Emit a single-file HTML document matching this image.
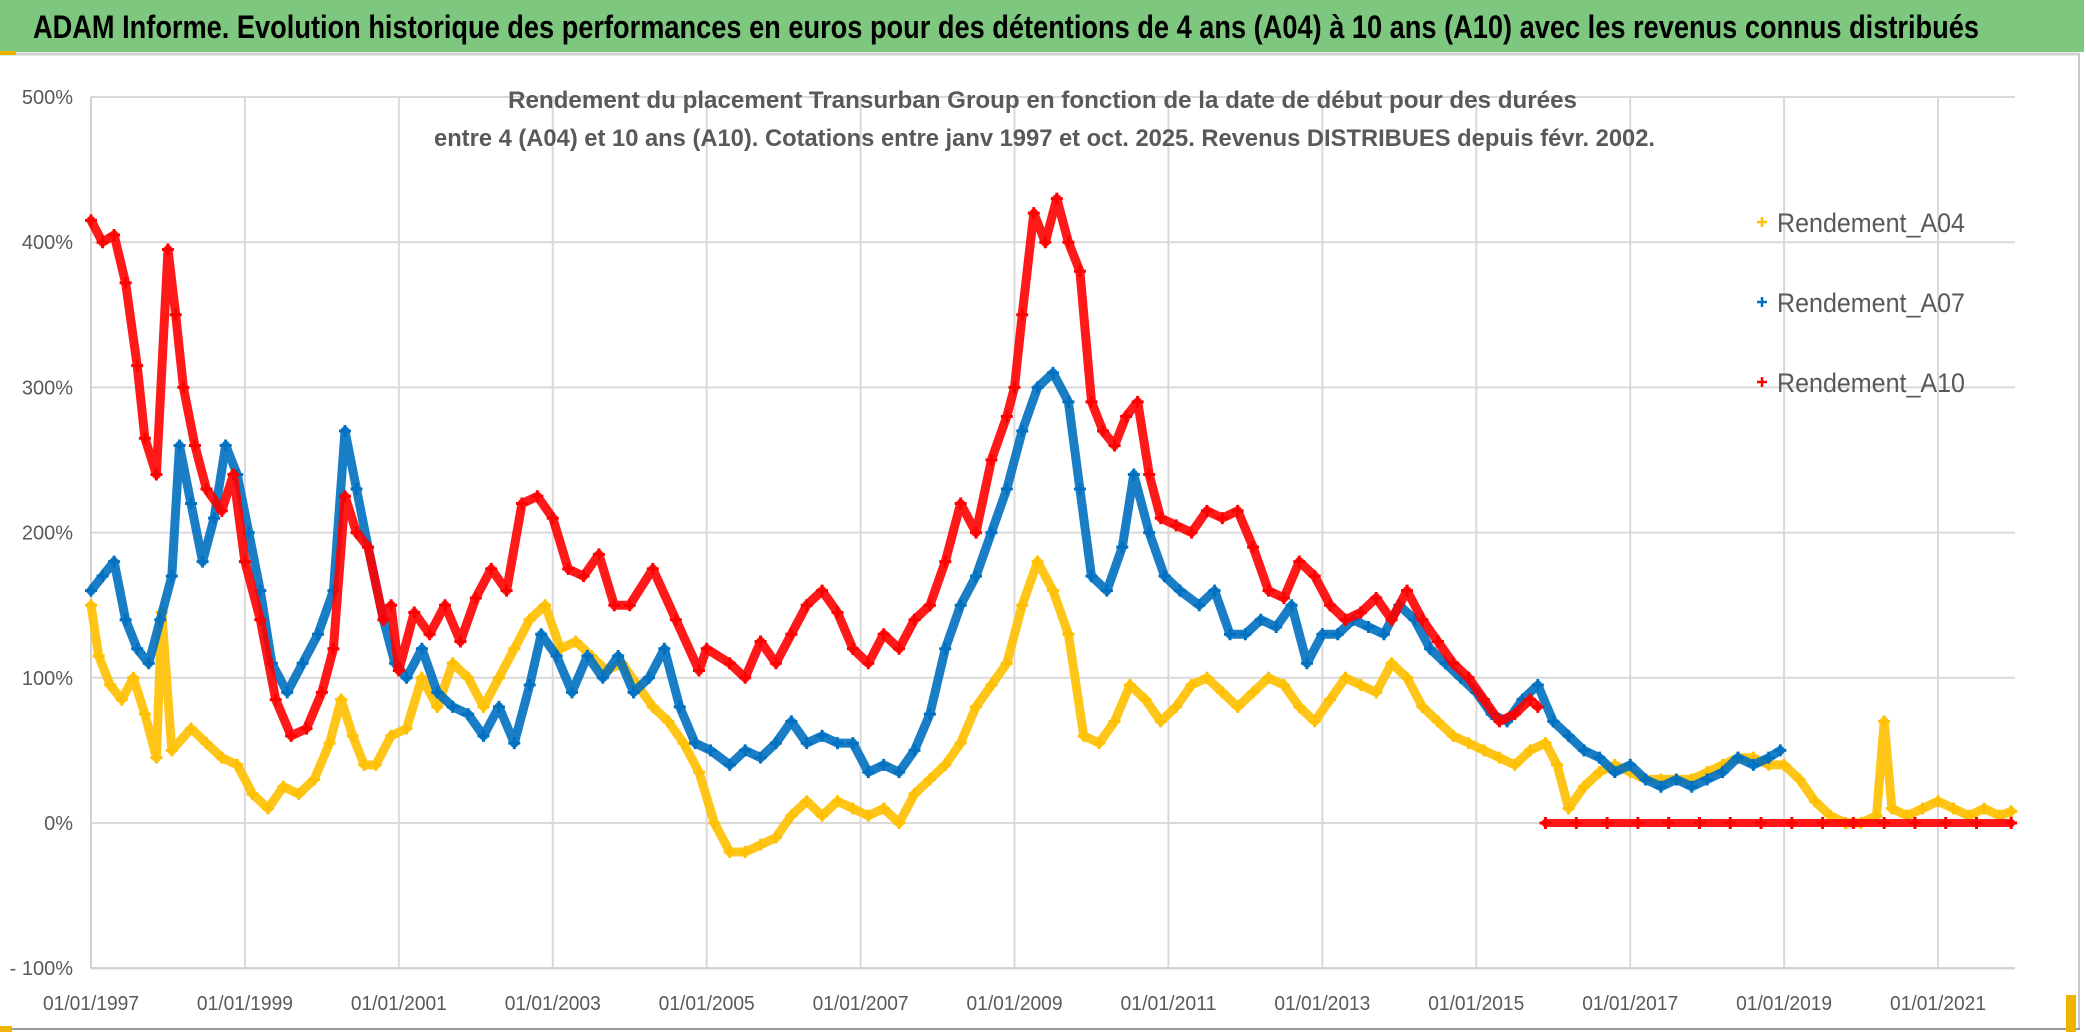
<!DOCTYPE html>
<html><head><meta charset="utf-8">
<style>
html,body{margin:0;padding:0;background:#fff;}
svg{display:block;}
text{font-family:"Liberation Sans",sans-serif;}
</style></head>
<body>
<svg id="chart" width="2086" height="1032" viewBox="0 0 2086 1032">
  <rect x="0" y="0" width="2086" height="1032" fill="#fff"/>
  <rect x="0" y="0" width="2084" height="52" fill="#7dc87e"/>
  <line x1="0" y1="54" x2="2080" y2="54" stroke="#d0d0d0" stroke-width="3"/>
  <rect x="0" y="51" width="16" height="4" fill="#f0b400"/>
  <line x1="2079" y1="55" x2="2079" y2="1030" stroke="#c8c8c8" stroke-width="2"/>
  <line x1="0" y1="1029" x2="2080" y2="1029" stroke="#999" stroke-width="2"/>
  <rect x="0" y="1026" width="12" height="6" fill="#f0b400"/>
  <rect x="2066" y="995" width="10" height="37" fill="#f0b400"/>
  <text x="33" y="38" font-size="32" font-weight="bold" fill="#000" textLength="1946" lengthAdjust="spacingAndGlyphs">ADAM Informe. Evolution historique des performances en euros pour des détentions de 4 ans (A04) à 10 ans (A10) avec les revenus connus distribués</text>
  <g id="grid"></g>
  <g id="axes"></g>
  <text x="508" y="108" font-size="24" font-weight="bold" fill="#595959" textLength="1069" lengthAdjust="spacingAndGlyphs">Rendement du placement Transurban Group en fonction de la date de début pour des durées</text>
  <text x="434" y="146" font-size="24" font-weight="bold" fill="#595959" textLength="1221" lengthAdjust="spacingAndGlyphs">entre 4 (A04) et 10 ans (A10). Cotations entre janv 1997 et oct. 2025. Revenus DISTRIBUES depuis févr. 2002.</text>
  <g id="series"></g>
  <g id="legend"></g>
</svg>
<script>
const yTickValues = [-100, 0, 100, 200, 300, 400, 500];
const yTickLabels = ['- 100%', '0%', '100%', '200%', '300%', '400%', '500%'];
const xTickYears = [1997, 1999, 2001, 2003, 2005, 2007, 2009, 2011, 2013, 2015, 2017, 2019, 2021];
const xTickLabels = ['01/01/1997','01/01/1999','01/01/2001','01/01/2003','01/01/2005','01/01/2007','01/01/2009','01/01/2011','01/01/2013','01/01/2015','01/01/2017','01/01/2019','01/01/2021'];
const seriesNames = ['Rendement_A04', 'Rendement_A07', 'Rendement_A10'];

const datesA10 = [1997.0,1997.15,1997.3,1997.45,1997.6,1997.7,1997.85,1998.0,1998.1,1998.2,1998.35,1998.5,1998.7,1998.85,1999.0,1999.2,1999.4,1999.6,1999.8,2000.0,2000.15,2000.3,2000.45,2000.6,2000.8,2000.9,2001.0,2001.2,2001.4,2001.6,2001.8,2002.0,2002.2,2002.4,2002.6,2002.8,2003.0,2003.2,2003.4,2003.6,2003.8,2004.0,2004.3,2004.6,2004.9,2005.0,2005.3,2005.5,2005.7,2005.9,2006.1,2006.3,2006.5,2006.7,2006.9,2007.1,2007.3,2007.5,2007.7,2007.9,2008.1,2008.3,2008.5,2008.7,2008.9,2009.0,2009.1,2009.25,2009.4,2009.55,2009.7,2009.85,2010.0,2010.15,2010.3,2010.45,2010.6,2010.75,2010.9,2011.1,2011.3,2011.5,2011.7,2011.9,2012.1,2012.3,2012.5,2012.7,2012.9,2013.1,2013.3,2013.5,2013.7,2013.9,2014.1,2014.3,2014.5,2014.7,2014.9,2015.1,2015.3,2015.5,2015.7,2015.8];
const valuesA10 = [415,400,405,372,315,265,240,395,350,300,260,230,215,240,180,140,85,60,65,90,120,225,200,190,140,150,105,145,130,150,125,155,175,160,220,225,210,175,170,185,150,150,175,140,105,120,110,100,125,110,130,150,160,145,120,110,130,120,140,150,180,220,200,250,280,300,350,420,400,430,400,380,290,270,260,280,290,240,210,205,200,215,210,215,190,160,155,180,170,150,140,145,155,140,160,140,125,110,100,85,70,75,85,80];
const datesA10zero = [2015.9,2016.3,2016.7,2017.1,2017.5,2017.9,2018.3,2018.7,2019.1,2019.5,2019.9,2020.3,2020.7,2021.1,2021.5,2021.95];
const valuesA10zero = [0,0,0,0,0,0,0,0,0,0,0,0,0,0,0,0];

const datesA07 = [1997.0,1997.15,1997.3,1997.45,1997.6,1997.75,1997.9,1998.05,1998.15,1998.3,1998.45,1998.6,1998.75,1998.9,1999.05,1999.2,1999.35,1999.55,1999.75,1999.95,2000.15,2000.3,2000.45,2000.6,2000.8,2000.95,2001.1,2001.3,2001.5,2001.7,2001.9,2002.1,2002.3,2002.5,2002.7,2002.85,2003.05,2003.25,2003.45,2003.65,2003.85,2004.05,2004.25,2004.45,2004.65,2004.85,2005.05,2005.3,2005.5,2005.7,2005.9,2006.1,2006.3,2006.5,2006.7,2006.9,2007.1,2007.3,2007.5,2007.7,2007.9,2008.1,2008.3,2008.5,2008.7,2008.9,2009.1,2009.3,2009.5,2009.7,2009.85,2010.0,2010.2,2010.4,2010.55,2010.75,2010.95,2011.15,2011.4,2011.6,2011.8,2012.0,2012.2,2012.4,2012.6,2012.8,2013.0,2013.2,2013.4,2013.6,2013.8,2014.0,2014.2,2014.4,2014.6,2014.8,2015.0,2015.2,2015.4,2015.6,2015.8,2016.0,2016.2,2016.4,2016.6,2016.8,2017.0,2017.2,2017.4,2017.6,2017.8,2018.0,2018.2,2018.4,2018.6,2018.8,2018.95];
const valuesA07 = [160,170,180,140,120,110,140,170,260,220,180,210,260,240,200,160,110,90,110,130,160,270,230,190,140,110,100,120,90,80,75,60,80,55,95,130,115,90,115,100,115,90,100,120,80,55,50,40,50,45,55,70,55,60,55,55,35,40,35,50,75,120,150,170,200,230,270,300,310,290,230,170,160,190,240,200,170,160,150,160,130,130,140,135,150,110,130,130,140,135,130,150,140,120,110,100,90,75,70,85,95,70,60,50,45,35,40,30,25,30,25,30,35,45,40,45,50];

const datesA04 = [1997.0,1997.1,1997.25,1997.4,1997.55,1997.7,1997.85,1997.92,1998.05,1998.3,1998.5,1998.7,1998.9,1999.1,1999.3,1999.5,1999.7,1999.9,2000.1,2000.25,2000.4,2000.55,2000.7,2000.9,2001.1,2001.3,2001.5,2001.7,2001.9,2002.1,2002.3,2002.5,2002.7,2002.9,2003.1,2003.3,2003.5,2003.7,2003.9,2004.1,2004.3,2004.5,2004.7,2004.9,2005.1,2005.3,2005.5,2005.7,2005.9,2006.1,2006.3,2006.5,2006.7,2006.9,2007.1,2007.3,2007.5,2007.7,2007.9,2008.1,2008.3,2008.5,2008.7,2008.9,2009.1,2009.3,2009.5,2009.7,2009.9,2010.1,2010.3,2010.5,2010.7,2010.9,2011.1,2011.3,2011.5,2011.7,2011.9,2012.1,2012.3,2012.5,2012.7,2012.9,2013.1,2013.3,2013.5,2013.7,2013.9,2014.1,2014.3,2014.5,2014.7,2014.9,2015.1,2015.3,2015.5,2015.7,2015.9,2016.05,2016.2,2016.4,2016.6,2016.8,2017.0,2017.2,2017.4,2017.6,2017.8,2018.0,2018.2,2018.4,2018.6,2018.8,2019.0,2019.2,2019.4,2019.6,2019.8,2020.0,2020.2,2020.3,2020.4,2020.6,2020.8,2021.0,2021.2,2021.4,2021.6,2021.8,2021.95];
const valuesA04 = [150,115,95,85,100,75,45,145,50,65,55,45,40,20,10,25,20,30,55,85,60,40,40,60,65,100,80,110,100,80,100,120,140,150,120,125,115,105,110,95,80,70,55,35,0,-20,-20,-15,-10,5,15,5,15,10,5,10,0,20,30,40,55,80,95,110,150,180,160,130,60,55,70,95,85,70,80,95,100,90,80,90,100,95,80,70,85,100,95,90,110,100,80,70,60,55,50,45,40,50,55,40,10,25,35,40,35,30,30,30,30,35,40,45,45,40,40,30,15,5,0,0,5,70,10,5,10,15,10,5,10,5,8];

const NS = 'http://www.w3.org/2000/svg';
const X0 = 91, X1 = 2015, T0 = 1997, T1 = 2022;
const Y0 = 823, PX_PER_PCT = 1.452;
function xScale(t){ return X0 + (t - T0) * (X1 - X0) / (T1 - T0); }
function yScale(v){ return Y0 - v * PX_PER_PCT; }
function mk(tag, attrs, parent){ const e = document.createElementNS(NS, tag); for (const k in attrs) e.setAttribute(k, attrs[k]); parent.appendChild(e); return e; }

const grid = document.getElementById('grid');
const axes = document.getElementById('axes');
yTickValues.forEach((v, i) => {
  const y = yScale(v);
  const gl = mk('line', {x1: X0, x2: X1, y1: y, y2: y, stroke: '#d9d9d9', 'stroke-width': 2}, grid);
  
  
  const t = mk('text', {x: 73, y: y + 7, 'font-size': 20, fill: '#595959', 'text-anchor': 'end'}, axes);
  t.textContent = yTickLabels[i];
  
  
});
xTickYears.forEach((yr, i) => {
  const x = xScale(yr);
  const gl = mk('line', {x1: x, x2: x, y1: yScale(500), y2: yScale(-100), stroke: '#d9d9d9', 'stroke-width': 2}, grid);
  
  
  const t = mk('text', {x: x, y: 1010, 'font-size': 20, fill: '#595959', 'text-anchor': 'middle', textLength: 96, lengthAdjust: 'spacingAndGlyphs'}, axes);
  t.textContent = xTickLabels[i];
  
  
});
const ax = mk('line', {x1: X0, x2: X0, y1: yScale(500), y2: yScale(-100), stroke: '#cfcfcf', 'stroke-width': 2}, axes);


const bx = mk('line', {x1: X0, x2: X1, y1: yScale(-100), y2: yScale(-100), stroke: '#cfcfcf', 'stroke-width': 2}, axes);



const seriesG = document.getElementById('series');
function drawSeries(dates, vals, color, name, width){
  const g = mk('g', {}, seriesG);
  
  
  const pts = dates.map((d, i) => xScale(d).toFixed(1) + ',' + yScale(vals[i]).toFixed(1)).join(' ');
  const pl = mk('polyline', {points: pts, fill: 'none', stroke: color, 'stroke-width': width, 'stroke-linejoin': 'round', 'stroke-linecap': 'round', opacity: 0.9}, g);
  
  
  dates.forEach((d, i) => {
    const x = xScale(d), y = yScale(vals[i]);
    const p = mk('path', {d: `M${x-6},${y}h12M${x},${y-6}v12`, stroke: color, 'stroke-width': 3}, g);
    
    
  });
}
drawSeries(datesA04, valuesA04, '#ffc000', 'series-a04', 9);
drawSeries(datesA07, valuesA07, '#0070c0', 'series-a07', 9);
drawSeries(datesA10, valuesA10, '#ff0000', 'series-a10', 9);
drawSeries(datesA10zero, valuesA10zero, '#ff0000', 'series-a10-zero', 8);

const legend = document.getElementById('legend');
const legColors = ['#ffc000', '#0070c0', '#ff0000'];
const legY = [222, 302, 382];
seriesNames.forEach((n, i) => {
  const g = mk('g', {}, legend);
  
  
  const y = legY[i];
  mk('path', {d: `M1757,${y}h10M1762,${y-5}v10`, stroke: legColors[i], 'stroke-width': 2.5}, g);
  const t = mk('text', {x: 1777, y: y + 10, 'font-size': 27, fill: '#595959', textLength: 188, lengthAdjust: 'spacingAndGlyphs'}, g);
  t.textContent = n;
});
</script>
</body></html>
